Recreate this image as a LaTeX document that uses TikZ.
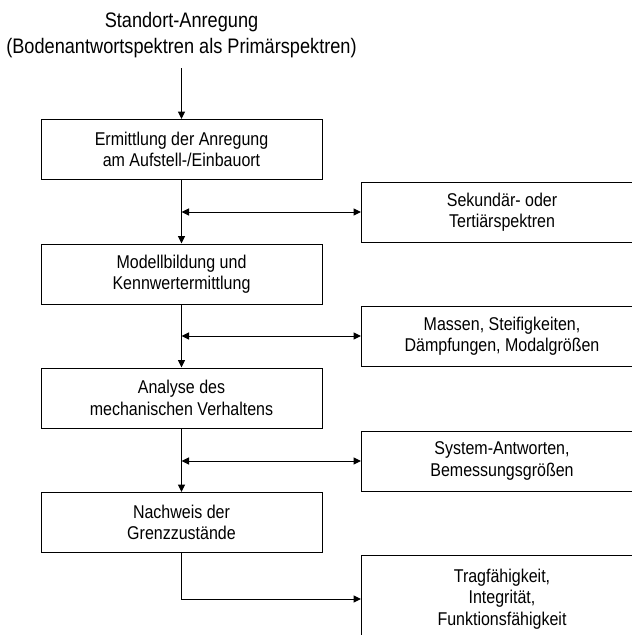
\documentclass[tikz,border=0pt]{standalone}
\usepackage{fontspec}
\setmainfont{Liberation Sans}[FakeStretch=0.865]
\usetikzlibrary{arrows.meta}
\begin{document}
\begin{tikzpicture}[x=1pt,y=-1pt,
  box/.style={draw, line width=1pt, minimum width=281pt, minimum height=60pt, inner sep=0pt, align=center, font=\fontsize{18.5}{21.5}\selectfont},
  tip/.tip={Triangle[length=7.5pt,width=7pt]},
  arr/.style={line width=1pt, -tip},
  darr/.style={line width=1pt, tip-tip}]
\useasboundingbox (0,0) rectangle (632,635);
\clip (0,0) rectangle (632,635);
\node[align=center, inner sep=0pt, font=\fontsize{21}{26}\selectfont] (t) at (181.5,35) {Standort-Anregung\\(Bodenantwortspektren als Primärspektren)};
\coordinate (s) at (181.5,68);
\node[box] (b1) at (181.5,149.5) {Ermittlung der Anregung\\am Aufstell-/Einbauort};
\node[box] (b2) at (181.5,274) {Modellbildung und\\Kennwertermittlung};
\node[box] (b3) at (181.5,398) {Analyse des\\mechanischen Verhaltens};
\node[box] (b4) at (181.5,522.5) {Nachweis der\\Grenzzustände};
\node[box] (r1) at (502,212) {Sekundär- oder\\Tertiärspektren};
\node[box] (r2) at (502,336) {Massen, Steifigkeiten,\\Dämpfungen, Modalgrößen};
\node[box] (r3) at (502,461) {System-Antworten,\\Bemessungsgrößen};
\node[box, minimum height=88pt] (r4) at (502,599) {Tragfähigkeit,\\Integrität,\\Funktionsfähigkeit};
\draw[arr] (s) -- (b1.north);
\draw[arr] (b1.south) -- (b2.north);
\draw[arr] (b2.south) -- (b3.north);
\draw[arr] (b3.south) -- (b4.north);
\draw[darr] (b1.south |- r1.west) -- (r1.west);
\draw[darr] (b2.south |- r2.west) -- (r2.west);
\draw[darr] (b3.south |- r3.west) -- (r3.west);
\draw[arr] (b4.south) |- (r4.west);
\end{tikzpicture}
\end{document}
